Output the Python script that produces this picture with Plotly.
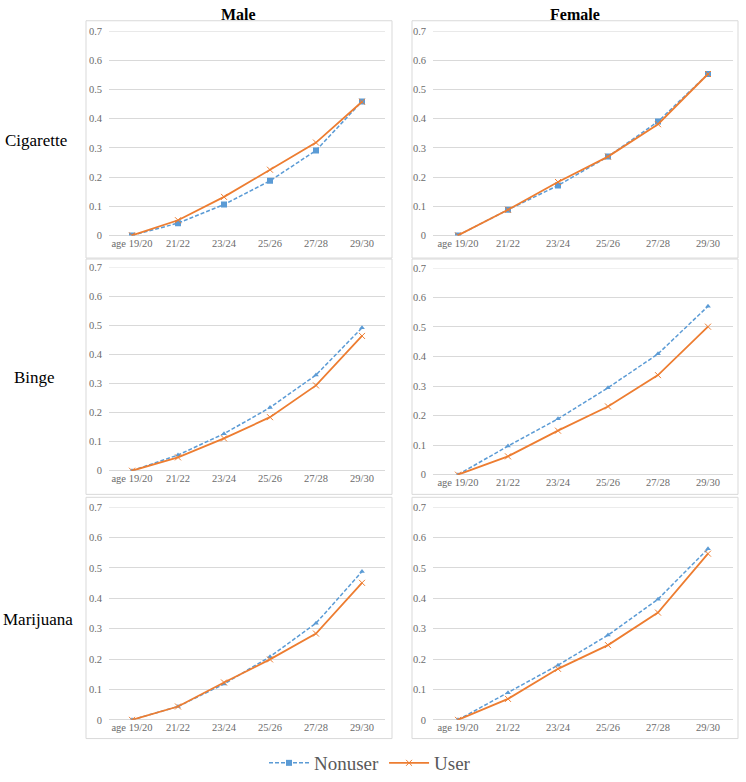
import plotly.graph_objects as go

W, H = 746, 782

ages = ["age 19/20", "21/22", "23/24", "25/26", "27/28", "29/30"]
y_ticks = [0, 0.1, 0.2, 0.3, 0.4, 0.5, 0.6, 0.7]

cig_male_nonuser = [0, 0.042, 0.106, 0.187, 0.291, 0.459]
cig_male_user = [0, 0.052, 0.132, 0.225, 0.318, 0.458]
cig_female_nonuser = [0, 0.088, 0.171, 0.270, 0.390, 0.553]
cig_female_user = [0, 0.088, 0.183, 0.270, 0.381, 0.553]

binge_male_nonuser = [0, 0.054, 0.127, 0.217, 0.329, 0.491]
binge_male_user = [0, 0.046, 0.111, 0.184, 0.293, 0.463]
binge_female_nonuser = [0, 0.097, 0.189, 0.294, 0.409, 0.570]
binge_female_user = [0, 0.062, 0.149, 0.231, 0.337, 0.501]

mj_male_nonuser = [0, 0.044, 0.118, 0.208, 0.318, 0.488]
mj_male_user = [0, 0.044, 0.123, 0.199, 0.284, 0.451]
mj_female_nonuser = [0, 0.089, 0.180, 0.279, 0.397, 0.563]
mj_female_user = [0, 0.069, 0.168, 0.246, 0.353, 0.547]

row_labels = ["Cigarette", "Binge", "Marijuana"]
col_titles = ["Male", "Female"]
legend_names = ["Nonuser", "User"]

BLUE = "#5B9BD5"
ORANGE = "#ED7D31"
GRID = "#D9D9D9"
TICK = "#6b6b6b"
FONT = "Liberation Serif, Times New Roman, serif"

def px_x(v):
    return v / W

def px_y(v):
    return 1 - v / H

panels = [
    # (nonuser, user, plot x0, x1, y_top(0.7), y_bottom(0), box x0,x1,y0,y1, nonuser marker)
    (cig_male_nonuser, cig_male_user, 109, 385, 26.5, 234, 86, 392, 16, 257, "square"),
    (cig_female_nonuser, cig_female_user, 433, 733, 26.5, 234, 412, 738, 16, 257, "square"),
    (binge_male_nonuser, binge_male_user, 109, 385, 266, 473, 86, 392, 258, 497, "triangle-up"),
    (binge_female_nonuser, binge_female_user, 433, 733, 267, 477, 412, 738, 258, 497, "triangle-up"),
    (mj_male_nonuser, mj_male_user, 109, 385, 510, 726, 86, 392, 500, 745, "triangle-up"),
    (mj_female_nonuser, mj_female_user, 433, 733, 510, 726, 412, 738, 500, 745, "triangle-up"),
]

fig = go.Figure()
layout = {}
shapes = []
for i, (nu, us, x0, x1, yt, yb, bx0, bx1, by0, by1, msym) in enumerate(panels):
    n = i + 1
    xa = "x" if n == 1 else f"x{n}"
    ya = "y" if n == 1 else f"y{n}"
    fig.add_trace(go.Scatter(
        x=ages, y=nu, xaxis=xa, yaxis=ya, mode="lines+markers",
        name=legend_names[0], showlegend=(n == 1), legendrank=1,
        line=dict(color=BLUE, width=1.5, dash="4px,2px"),
        marker=dict(symbol=msym, size=6 if msym == "square" else 5, color=BLUE),
    ))
    fig.add_trace(go.Scatter(
        x=ages, y=us, xaxis=xa, yaxis=ya, mode="lines+markers",
        name=legend_names[1], showlegend=(n == 1), legendrank=2,
        line=dict(color=ORANGE, width=1.8),
        marker=dict(symbol="x-thin", size=6, color=ORANGE,
                    line=dict(color=ORANGE, width=1)),
    ))
    layout["xaxis" if n == 1 else f"xaxis{n}"] = dict(
        domain=[px_x(x0), px_x(x1)], anchor=ya, type="category",
        range=[-0.5, 5.5], showgrid=False, zeroline=False, showline=False,
        ticks="", tickfont=dict(family=FONT, size=10.5, color=TICK),
        fixedrange=True,
    )
    layout["yaxis" if n == 1 else f"yaxis{n}"] = dict(
        domain=[px_y(yb), px_y(yt)], anchor=xa, range=[0, 0.7],
        tickvals=y_ticks, ticktext=[f"{v:g}" for v in y_ticks],
        showgrid=True, gridcolor=GRID, gridwidth=1,
        zeroline=True, zerolinecolor=GRID, zerolinewidth=1,
        showline=False, ticks="", ticklabelstandoff=6,
        tickfont=dict(family=FONT, size=10.5, color=TICK), fixedrange=True,
    )
    shapes.append(dict(type="rect", xref="paper", yref="paper",
                       x0=px_x(bx0), x1=px_x(bx1), y0=px_y(by1), y1=px_y(by0),
                       line=dict(color=GRID, width=1), layer="below"))
    shapes.append(dict(type="line", xref=f"{xa} domain", yref=ya,
                       x0=0, x1=1, y0=0.7, y1=0.7,
                       line=dict(color=GRID, width=1), layer="below"))

annotations = []
for label, (cx, cy) in zip(row_labels, [(36, 138), (34, 378), (38, 624)]):
    annotations.append(dict(text=label, x=px_x(cx), y=px_y(cy), xref="paper", yref="paper",
                            showarrow=False, xanchor="center", yanchor="middle",
                            font=dict(family=FONT, size=17, color="#000000")))
for label, cx in zip(col_titles, [238, 575]):
    annotations.append(dict(text=f"<b>{label}</b>", x=px_x(cx), y=px_y(10), xref="paper", yref="paper",
                            showarrow=False, xanchor="center", yanchor="middle",
                            font=dict(family=FONT, size=16, color="#000000")))

fig.update_layout(
    width=W, height=H,
    margin=dict(l=0, r=0, t=0, b=0),
    paper_bgcolor="white", plot_bgcolor="white",
    showlegend=True,
    hovermode=False,
    legend=dict(orientation="h", x=px_x(370), xanchor="center", y=px_y(770), yanchor="middle",
                font=dict(family=FONT, size=19, color="#595959"),
                itemwidth=40, bgcolor="rgba(0,0,0,0)"),
    shapes=shapes, annotations=annotations,
    **layout,
)

fig.write_html(
    "out.html",
    config={"displayModeBar": False, "staticPlot": False},
    post_script="document.body.style.margin='0';document.body.style.overflow='hidden';",
)
